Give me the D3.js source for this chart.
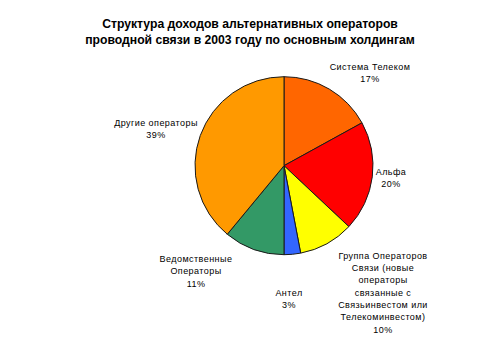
<!DOCTYPE html>
<html>
<head>
<meta charset="utf-8">
<script src="https://cdn.jsdelivr.net/npm/d3@7"></script>
<style>
  html, body { margin: 0; padding: 0; background: #fff; }
  svg { display: block; }
  text { font-family: "Liberation Sans", Arial, sans-serif; fill: #000; }
</style>
</head>
<body>
<svg id="chart" width="500" height="344"></svg>
<script>
// Revenue shares of alternative wireline operators, 2003 (percent)
const categories = [
  "Система Телеком",
  "Альфа",
  "Группа Операторов Связи (новые операторы связанные с Связьинвестом или Телекоминвестом)",
  "Антел",
  "Ведомственные Операторы",
  "Другие операторы"
];
const shares = [17, 20, 10, 3, 11, 39];
const labelLines = [
  ["Система Телеком"],
  ["Альфа"],
  ["Группа Операторов", "Связи (новые", "операторы", "связанные с", "Связьинвестом или", "Телекоминвестом)"],
  ["Антел"],
  ["Ведомственные", "Операторы"],
  ["Другие операторы"]
];
const titleLines = [
  "Структура доходов альтернативных операторов",
  "проводной связи в 2003 году по основным холдингам"
];

// Slice fills and label anchor positions (block centres)
const fills = ["#FF6600", "#FF0000", "#FFFF00", "#3366FF", "#339966", "#FF9900"];
const labelPos = [
  [370, 73], [391, 178], [383, 292.5], [289, 298.5], [196, 271.3], [156, 128.5]
];
const lineH = 12.3;

const svg = d3.select("#chart");
const cx = 284, cy = 165.7, r = 89;

// Title
svg.append("g").selectAll("text")
  .data(titleLines)
  .join("text")
  .attr("x", 250)
  .attr("y", (d, i) => 24 + i * 15.5)
  .attr("dy", "0.35em")
  .attr("text-anchor", "middle")
  .style("font-size", "12.2px")
  .style("font-weight", "bold")
  .text(d => d);

// Pie
const pie = d3.pie().sort(null).value(d => d.v).startAngle(0).endAngle(2 * Math.PI);
const arc = d3.arc().innerRadius(0).outerRadius(r);
const arcs = pie(shares.map((v, i) => ({ v, i })));

svg.append("g")
  .attr("transform", `translate(${cx},${cy})`)
  .selectAll("path")
  .data(arcs)
  .join("path")
  .attr("d", arc)
  .attr("fill", d => fills[d.data.i])
  .attr("stroke", "#1a1a1a")
  .attr("stroke-width", 1)
  .attr("stroke-linejoin", "round");

// Data labels: category name lines followed by the percentage
const lg = svg.append("g");
arcs.forEach(d => {
  const i = d.data.i;
  const lines = labelLines[i].concat([d3.format("d")(d.data.v) + "%"]);
  const [lx, ly] = labelPos[i];
  const y0 = ly - (lines.length - 1) * lineH / 2;
  lg.append("text")
    .attr("text-anchor", "middle")
    .style("font-size", "9px")
    .style("letter-spacing", "0.45px")
    .selectAll("tspan")
    .data(lines)
    .join("tspan")
    .attr("x", lx)
    .attr("y", (t, k) => y0 + k * lineH)
    .attr("dy", "0.35em")
    .text(t => t);
});
</script>
</body>
</html>
